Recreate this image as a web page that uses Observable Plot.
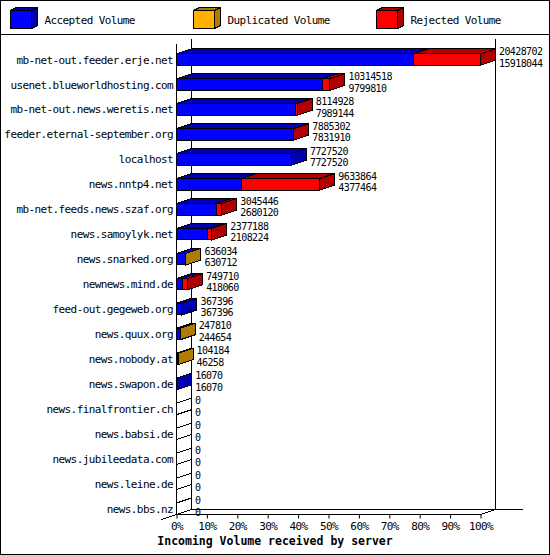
<!DOCTYPE html>
<html>
<head>
<meta charset="utf-8">
<script src="https://cdn.jsdelivr.net/npm/d3@7"></script>
<script src="https://cdn.jsdelivr.net/npm/@observablehq/plot@0.6"></script>
<style>
html, body { margin: 0; padding: 0; background: #fff; }
#wrap { position: relative; width: 550px; height: 555px; overflow: hidden; background: #fff; }
#border { position: absolute; left: 0; top: 0; width: 550px; height: 555px; box-sizing: border-box; border: 1px solid #000; pointer-events: none; z-index: 5; }
#legend { position: absolute; left: 0; top: 0; }
#chart { position: absolute; left: 0; top: 35px; }
#title { position: absolute; left: 0; top: 534px; width: 550px; height: 17px; line-height: 17px; text-align: center; font: bold 11.5px "DejaVu Sans Mono", monospace; color: #000; }
</style>
</head>
<body>
<div id="wrap"><div id="legend"></div><div id="chart"></div><div id="title"></div><div id="border"></div></div>
<script>
// ---- data ----
const hosts = [
  "mb-net-out.feeder.erje.net",
  "usenet.blueworldhosting.com",
  "mb-net-out.news.weretis.net",
  "feeder.eternal-september.org",
  "localhost",
  "news.nntp4.net",
  "mb-net.feeds.news.szaf.org",
  "news.samoylyk.net",
  "news.snarked.org",
  "newnews.mind.de",
  "feed-out.gegeweb.org",
  "news.quux.org",
  "news.nobody.at",
  "news.swapon.de",
  "news.finalfrontier.ch",
  "news.babsi.de",
  "news.jubileedata.com",
  "news.leine.de",
  "news.bbs.nz"
];
const totalVolume = [20428702, 10314518, 8114928, 7885302, 7727520, 9633864, 3045446, 2377188, 636034, 749710, 367396, 247810, 104184, 16070, 0, 0, 0, 0, 0];
const acceptedVolume = [15918044, 9799810, 7989144, 7831910, 7727520, 4377464, 2680120, 2108224, 630712, 418060, 367396, 244654, 46258, 16070, 0, 0, 0, 0, 0];
const duplicatedVolume = [0, 0, 0, 0, 0, 0, 0, 0, 5322, 0, 0, 3156, 57926, 0, 0, 0, 0, 0, 0];
const rejectedVolume = [4510658, 514708, 125784, 53392, 0, 5256400, 365326, 268964, 0, 331650, 0, 0, 0, 0, 0, 0, 0, 0, 0];
const seriesNames = ["Accepted Volume", "Duplicated Volume", "Rejected Volume"];
const frontColors = ["#0000ff", "#ffb000", "#ff0000"];
const darkColors = ["#0000b0", "#b07b00", "#b00000"];
const xTicks = [0, 0.1, 0.2, 0.3, 0.4, 0.5, 0.6, 0.7, 0.8, 0.9, 1];
const xTickLabels = ["0%", "10%", "20%", "30%", "40%", "50%", "60%", "70%", "80%", "90%", "100%"];
const axisTitle = "Incoming Volume received by server";

// ---- build tables ----
const maxTotal = d3.max(totalVolume);
const seriesValues = [acceptedVolume, duplicatedVolume, rejectedVolume];
const segments = [];
hosts.forEach((h, i) => seriesValues.forEach((vals, s) => {
  segments.push({host: h, series: seriesNames[s], s, frac: vals[i] / maxTotal});
}));
const rows = hosts.map((h, i) => ({
  host: h,
  total: totalVolume[i] / maxTotal,
  label: totalVolume[i] + "\n" + acceptedVolume[i]
}));

const DX = 15, DY = -5; // 3D depth offset (style)
const FONT = "'DejaVu Sans Mono', monospace";

function pts(a) { return a.map(p => p.join(",")).join(" "); }

function walls(index, scales, values, dims) {
  const x0 = scales.x(0), x1 = scales.x(1);
  const yt = dims.marginTop, yb = dims.height - dims.marginBottom;
  const g = d3.create("svg:g").attr("fill", "none").attr("stroke", "#000").attr("shape-rendering", "crispEdges");
  const line = (a, b, c, d) => g.append("line").attr("x1", a).attr("y1", b).attr("x2", c).attr("y2", d);
  line(x0 + DX, yt + DY, x0 + DX, yb + DY);       // back left
  line(x1 + DX, yt + DY, x1 + DX, yb + DY);       // back right
  line(x0 + DX, yb + DY, x1 + DX + 27, yb + DY);  // back floor
  line(x0 - DX, yb - DY, x0 + DX, yb + DY);       // left floor edge
  line(x1, yb, x1 + DX, yb + DY);                 // right floor edge
  line(x0, yt, x0, yb);                           // front left
  line(x0, yb, x1, yb);                           // front floor
  return g.node();
}

function bars3d(index, scales, values) {
  const X1 = values.x1, X2 = values.x2, Y = values.y;
  const bw = scales.y.bandwidth();
  const g = d3.create("svg:g").attr("stroke", "#000").attr("stroke-width", 1).attr("shape-rendering", "crispEdges");
  const byRow = d3.group(index, i => segments[i].host);
  for (const [, idx] of byRow) {
    const y0 = Y[idx[0]], y1 = y0 + bw;
    const nz = idx.filter(i => X2[i] - X1[i] > 0);
    for (const i of nz) {
      g.append("rect").attr("x", X1[i]).attr("y", y0).attr("width", X2[i] - X1[i]).attr("height", bw)
        .attr("fill", frontColors[segments[i].s]);
    }
    for (const i of nz) {
      g.append("polygon").attr("points", pts([[X1[i], y0], [X2[i], y0], [X2[i] + DX, y0 + DY], [X1[i] + DX, y0 + DY]]))
        .attr("fill", darkColors[segments[i].s]);
    }
    const last = nz.length ? nz[nz.length - 1] : null;
    const xe = last != null ? X2[last] : X1[idx[0]];
    g.append("polygon").attr("points", pts([[xe, y0], [xe, y1], [xe + DX, y1 + DY], [xe + DX, y0 + DY]]))
      .attr("fill", last != null ? darkColors[segments[last].s] : "none");
  }
  return g.node();
}

const chart = Plot.plot({
  width: 550,
  height: 499,
  marginLeft: 176.5,
  marginRight: 69.5,
  marginTop: 9,
  marginBottom: 19.5,
  style: {fontFamily: FONT, fontSize: "11px", letterSpacing: "-0.6px", background: "white", color: "black", overflow: "visible"},
  x: {domain: [0, 1]},
  y: {type: "band", domain: hosts, paddingInner: 0.54, paddingOuter: 0.196, align: 1, round: false},
  color: {domain: seriesNames, range: frontColors},
  marks: [
    Plot.frame({render: walls}),
    Plot.barX(segments, Plot.stackX({x: "frac", y: "host", fill: "series", render: bars3d})),
    Plot.axisY({tickSize: 0, tickPadding: 4, label: null}),
    Plot.axisX({ticks: xTicks, tickFormat: d => xTickLabels[xTicks.indexOf(d)], tickSize: 4, tickPadding: 3, label: null}),
    Plot.text(rows, {x: "total", y: "host", text: "label", dx: 18, dy: -3, lineHeight: 1.17, fontSize: 10, textAnchor: "start", fill: "black", style: "letter-spacing:0"})
  ]
});
document.getElementById("chart").appendChild(chart);

// ---- legend ----
const leg = d3.select("#legend").append("svg").attr("width", 550).attr("height", 35)
  .style("font-family", FONT).style("font-size", "11px").style("letter-spacing", "-0.6px");
seriesNames.forEach((name, s) => {
  const x = 10.5 + 183 * s, y = 10.5, w = 21, h = 18, dx = 6, dy = -3;
  const g = leg.append("g").attr("stroke", "#000").attr("shape-rendering", "crispEdges");
  g.append("polygon").attr("points", pts([[x + w, y], [x + w, y + h], [x + w + dx, y + h + dy], [x + w + dx, y + dy]])).attr("fill", darkColors[s]);
  g.append("polygon").attr("points", pts([[x, y], [x + w, y], [x + w + dx, y + dy], [x + dx, y + dy]])).attr("fill", darkColors[s]);
  g.append("rect").attr("x", x).attr("y", y).attr("width", w).attr("height", h).attr("fill", frontColors[s]);
  leg.append("text").attr("x", x + 34).attr("y", 20).attr("dy", "0.35em").attr("fill", "#000").text(name);
});
leg.append("line").attr("x1", 0).attr("x2", 550).attr("y1", 34.5).attr("y2", 34.5).attr("stroke", "#000");

document.getElementById("title").textContent = axisTitle;
</script>
</body>
</html>
